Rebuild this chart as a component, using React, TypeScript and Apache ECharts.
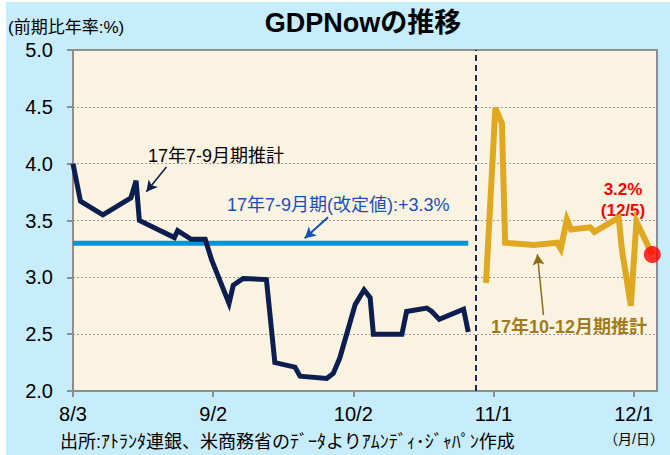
import React, { useEffect, useRef } from "react";
import * as echarts from "echarts";

// x = days since 8/3 (ticks every 30 days)
const xTickLabels = ["8/3", "9/2", "10/2", "11/1", "12/1"];
const yTickValues = [2.0, 2.5, 3.0, 3.5, 4.0, 4.5, 5.0];

const q3Days = [0, 1.6, 6.4, 12.4, 13.5, 14.2, 21.7, 22.4, 25.3, 28.3, 29.7, 33.4, 34.3, 36.4, 41.4, 43.2, 47.5, 48.6, 54.3, 55.7, 57.1, 60.4, 62.3, 63.6, 64.3, 70.4, 71.4, 75.7, 76.8, 78.4, 83.6, 84.6];
const q3Values = [4.0, 3.67, 3.55, 3.7, 3.85, 3.5, 3.35, 3.41, 3.335, 3.335, 3.15, 2.77, 2.93, 2.99, 2.98, 2.25, 2.21, 2.13, 2.11, 2.155, 2.29, 2.76, 2.89, 2.82, 2.5, 2.5, 2.7, 2.73, 2.7, 2.63, 2.72, 2.52];

const q4Days = [88.4, 90.4, 91.8, 92.5, 98.6, 103.6, 104.4, 105.7, 106.6, 110.7, 111.6, 116.8, 117.5, 119.4, 120.6, 124];
const q4Values = [2.95, 4.49, 4.355, 3.305, 3.285, 3.305, 3.25, 3.51, 3.42, 3.44, 3.4, 3.525, 3.24, 2.75, 3.49, 3.2];

const revisedDays = [0, 84.6];
const revisedValues = [3.3, 3.3];

const latestDay = 124;
const latestValue = 3.2;
const quarterBreakDay = 86.2;

const FONT = "'Liberation Sans', Arial, 'Noto Sans CJK JP', sans-serif";

const zip = (a: number[], b: number[]) => a.map((v, i) => [v, b[i]]);

export default function App() {
  const ref = useRef<HTMLDivElement>(null);
  useEffect(() => {
    const chart = echarts.init(ref.current!, null, { renderer: "svg" });
    const option: any = {
      animation: false,
      backgroundColor: "transparent",
      textStyle: { fontFamily: FONT },
      grid: {
        left: 73,
        top: 50,
        right: 13,
        bottom: 64,
        show: true,
        backgroundColor: "#fbf3e1",
        borderColor: "#8e8e8e",
        borderWidth: 2,
      },
      xAxis: {
        type: "value",
        min: 0,
        max: 125,
        interval: 30,
        axisLine: { show: true, lineStyle: { color: "#8e8e8e", width: 2 } },
        axisTick: { show: true, length: 6, lineStyle: { color: "#8e8e8e", width: 2 } },
        splitLine: { show: false },
        axisLabel: {
          showMaxLabel: false,
          margin: 13,
          fontSize: 20,
          color: "#000",
          fontFamily: FONT,
          formatter: (v: number) => {
            const i = Math.round(v / 30);
            return Math.abs(v - i * 30) < 1e-6 && xTickLabels[i] ? xTickLabels[i] : "";
          },
        },
      },
      yAxis: {
        type: "value",
        min: yTickValues[0],
        max: yTickValues[yTickValues.length - 1],
        interval: 0.5,
        axisLine: { show: true, lineStyle: { color: "#8e8e8e", width: 2 } },
        axisTick: { show: true, length: 6, lineStyle: { color: "#8e8e8e", width: 2 } },
        splitLine: { show: true, lineStyle: { color: "#9a9a9a", type: [2, 2], width: 1 } },
        axisLabel: {
          margin: 20,
          fontSize: 20,
          color: "#000",
          fontFamily: FONT,
          formatter: (v: number) => v.toFixed(1),
        },
      },
      series: [
        {
          type: "line",
          data: zip(revisedDays, revisedValues),
          symbol: "none",
          lineStyle: { color: "#0096d6", width: 5 },
          z: 3,
          markLine: {
            silent: true,
            symbol: ["none", "arrow"],
            symbolSize: [9, 11],
            label: { show: false },
            data: [
              [
                { coord: [20.0, 3.97], lineStyle: { color: "#0b1e4f", width: 1.5, type: "solid" } },
                { coord: [15.7, 3.753] },
              ],
              [
                { coord: [54.6, 3.528], lineStyle: { color: "#1550c0", width: 2, type: "solid" } },
                { coord: [49.6, 3.343] },
              ],
              [
                { coord: [100.7, 2.669], lineStyle: { color: "#8a6a14", width: 1.5, type: "solid" } },
                { coord: [99.4, 3.203] },
              ],
            ],
          },
        },
        {
          type: "line",
          data: zip(q3Days, q3Values),
          symbol: "none",
          lineStyle: { color: "#0b1e4f", width: 5, join: "miter" },
          z: 4,
          markLine: {
            silent: true,
            symbol: ["none", "none"],
            label: { show: false },
            lineStyle: { color: "#1a2a50", width: 2, type: [6, 4] },
            data: [{ xAxis: quarterBreakDay }],
          },
        },
        {
          type: "line",
          data: zip(q4Days, q4Values),
          symbol: "none",
          lineStyle: { color: "#e0a820", width: 6, join: "miter" },
          z: 4,
        },
        {
          type: "scatter",
          data: [[latestDay, latestValue]],
          symbolSize: 17,
          itemStyle: { color: "#ff0000" },
          z: 5,
        },
      ],
      graphic: [
        {
          type: "text",
          x: 363,
          y: 23,
          style: { text: "GDPNowの推移", font: `bold 27px ${FONT}`, fill: "#000", align: "center", verticalAlign: "middle" },
        },
        {
          type: "text",
          x: 8,
          y: 27,
          style: { text: "(前期比年率:%)", font: `17px ${FONT}`, fill: "#000", align: "left", verticalAlign: "middle" },
        },
        {
          type: "text",
          x: 148,
          y: 156,
          style: { text: "17年7-9月期推計", font: `18px ${FONT}`, fill: "#000", align: "left", verticalAlign: "middle" },
        },
        {
          type: "text",
          x: 227,
          y: 205,
          style: { text: "17年7-9月期(改定値):+3.3%", font: `18px ${FONT}`, fill: "#1550c0", align: "left", verticalAlign: "middle" },
        },
        {
          type: "text",
          x: 491,
          y: 327,
          style: { text: "17年10-12月期推計", font: `bold 18px ${FONT}`, fill: "#a07c1c", align: "left", verticalAlign: "middle" },
        },
        {
          type: "text",
          x: 623,
          y: 189,
          style: { text: "3.2%", font: `bold 17px ${FONT}`, fill: "#ff0000", align: "center", verticalAlign: "middle" },
        },
        {
          type: "text",
          x: 623,
          y: 210,
          style: { text: "(12/5)", font: `bold 17px ${FONT}`, fill: "#ff0000", align: "center", verticalAlign: "middle" },
        },
        {
          type: "text",
          x: 60,
          y: 442,
          style: { text: "出所:ｱﾄﾗﾝﾀ連銀、米商務省のﾃﾞｰﾀよりｱﾑﾝﾃﾞｨ･ｼﾞｬﾊﾟﾝ作成", font: `18px ${FONT}`, fill: "#000", align: "left", verticalAlign: "middle" },
        },
        {
          type: "text",
          x: 634,
          y: 439,
          style: { text: "（月/日）", font: `14px ${FONT}`, fill: "#000", align: "center", verticalAlign: "middle" },
        },
      ],
    };
    chart.setOption(option);
    return () => chart.dispose();
  }, []);
  return (
    <div style={{ position: "fixed", left: 0, top: 0, width: 670, height: 455, background: "#fff" }}>
      <div style={{ position: "absolute", left: 6, top: 2, right: 0, bottom: 0, background: "#c7ecfc" }} />
      <div ref={ref} style={{ position: "absolute", left: 0, top: 0, width: 670, height: 455 }} />
    </div>
  );
}
